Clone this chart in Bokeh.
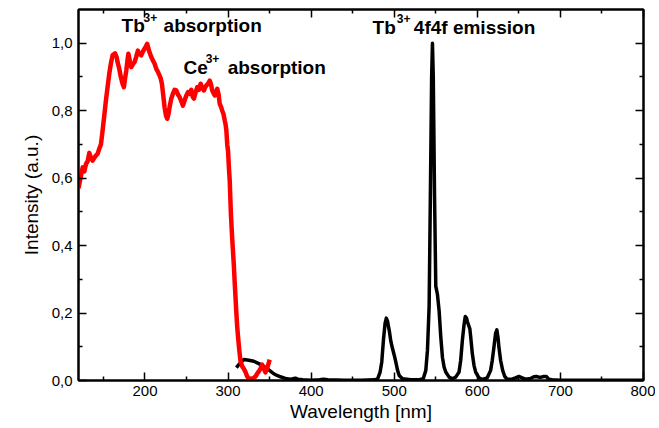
from bokeh.plotting import figure
from bokeh.models import Range1d, FixedTicker, LinearAxis, Label
from bokeh.embed import file_html
from bokeh.resources import INLINE

# ---- data ----
red_x = [120, 122, 125, 127, 129, 131, 133, 135, 137, 139, 141, 143, 145, 147, 149, 151, 153, 155,
         157, 159, 161, 163, 164, 166, 167, 169, 171, 173, 174.6, 176, 177.5, 179, 180, 182, 183.5,
         185.5, 187.5, 189.5, 191.5, 193.5, 195.5, 197.5, 199.5, 201, 202.7, 204, 205.5, 207.5,
         209.5, 211.5, 213.6, 215.6, 217.6, 219, 220.4, 222, 223.6, 225.3, 226.9, 228.3, 229.6,
         231.6, 233.6, 235.6, 237.7, 239.7, 241.7, 243.7, 245.7, 247.7, 249.8, 251.8, 253.7, 255.7,
         257.7, 259, 261, 263, 265, 267, 269, 271, 272.5, 274, 276, 278, 279.5, 281, 282.5, 284,
         285.5, 287, 288.5, 290, 291.5, 293, 294.5, 296, 297, 298, 299, 300, 301, 302, 303.5,
         305, 306, 307, 308, 309, 310, 311, 312, 313.5, 315, 317, 319, 321, 323, 325, 327, 329,
         331, 333, 335, 337, 339, 341, 343, 345, 347, 349, 350]
red_y = [0.570, 0.595, 0.632, 0.620, 0.642, 0.650, 0.675, 0.660, 0.652, 0.660, 0.667, 0.672, 0.687,
         0.700, 0.741, 0.785, 0.830, 0.870, 0.909, 0.940, 0.964, 0.968, 0.970, 0.958, 0.944, 0.925,
         0.899, 0.880, 0.870, 0.895, 0.919, 0.950, 0.969, 0.945, 0.929, 0.938, 0.944, 0.960, 0.978,
         0.968, 0.964, 0.975, 0.984, 0.990, 0.998, 0.985, 0.973, 0.960, 0.949, 0.940, 0.924, 0.915,
         0.904, 0.895, 0.880, 0.845, 0.810, 0.785, 0.776, 0.790, 0.810, 0.835, 0.850, 0.862, 0.860,
         0.848, 0.840, 0.828, 0.815, 0.830, 0.845, 0.855, 0.850, 0.862, 0.840, 0.836, 0.855, 0.870,
         0.862, 0.880, 0.868, 0.860, 0.870, 0.875, 0.880, 0.889, 0.878, 0.860, 0.852, 0.845, 0.856,
         0.865, 0.850, 0.820, 0.812, 0.800, 0.790, 0.771, 0.760, 0.740, 0.700, 0.680, 0.632, 0.593,
         0.490, 0.420, 0.380, 0.340, 0.290, 0.245, 0.200, 0.160, 0.130, 0.090, 0.056, 0.042, 0.035,
         0.025, 0.012, 0.006, 0.005, 0.006, 0.008, 0.012, 0.020, 0.027, 0.035, 0.047, 0.035, 0.024,
         0.036, 0.052, 0.062]

black_x = [310, 314, 319, 325, 331, 337, 343, 347, 351, 355, 359, 363, 367, 371, 375, 378, 381, 384,
           390, 400, 410, 415, 420, 440, 460, 476, 480, 483, 485, 487, 489, 490.5, 492, 494, 496,
           498, 500, 502, 504, 506, 510, 520, 530, 535, 538, 540, 542, 543.5, 545, 546, 547, 548.5,
           550, 552, 554, 556, 558, 560, 562, 566, 570, 574, 578, 580, 582, 584, 585.5, 587, 588,
           590, 591, 592, 594, 596, 598, 602, 606, 612, 616, 618, 620, 622, 623.5, 625, 626, 628,
           630.5, 633, 636, 642, 646, 650, 654, 658, 664, 668, 671, 674, 677, 680, 683, 686, 690,
           700, 720, 750, 780, 800]
black_y = [0.038, 0.050, 0.062, 0.060, 0.057, 0.050, 0.042, 0.035, 0.028, 0.020, 0.015, 0.011, 0.008,
           0.005, 0.004, 0.005, 0.007, 0.004, 0.002, 0.001, 0.002, 0.004, 0.002, 0.001, 0.001, 0.002,
           0.005, 0.025, 0.055, 0.120, 0.170, 0.185, 0.175, 0.148, 0.115, 0.094, 0.075, 0.054, 0.030,
           0.015, 0.005, 0.002, 0.002, 0.006, 0.030, 0.090, 0.220, 0.550, 0.900, 1.000, 0.900, 0.550,
           0.280, 0.255, 0.207, 0.130, 0.069, 0.040, 0.025, 0.010, 0.005, 0.010, 0.025, 0.060, 0.119,
           0.165, 0.190, 0.185, 0.175, 0.160, 0.153, 0.130, 0.079, 0.045, 0.025, 0.008, 0.003, 0.008,
           0.030, 0.060, 0.099, 0.140, 0.150, 0.125, 0.099, 0.060, 0.030, 0.012, 0.004, 0.004, 0.008,
           0.012, 0.008, 0.004, 0.006, 0.011, 0.012, 0.010, 0.010, 0.012, 0.012, 0.004, 0.002, 0.001,
           0.001, 0.001, 0.001, 0.001]

x_ticks = [200, 300, 400, 500, 600, 700, 800]
x_minor = [150, 250, 350, 450, 550, 650, 750]
y_ticks = [0.0, 0.2, 0.4, 0.6, 0.8, 1.0]
y_minor = [0.1, 0.3, 0.5, 0.7, 0.9]
y_tick_labels = ["0,0", "0,2", "0,4", "0,6", "0,8", "1,0"]

FONT = "Liberation Sans"

p = figure(width=655, height=424, output_backend="svg", toolbar_location=None,
           x_range=Range1d(120, 800), y_range=Range1d(0, 1.1),
           min_border_left=78, min_border_right=12, min_border_top=9, min_border_bottom=44)
p.xgrid.grid_line_color = None
p.ygrid.grid_line_color = None
p.outline_line_color = "black"
p.outline_line_width = 2
p.outline_line_alpha = 1
p.background_fill_color = "white"
p.border_fill_color = "white"

xt = FixedTicker(ticks=x_ticks, minor_ticks=x_minor)
yt = FixedTicker(ticks=y_ticks, minor_ticks=y_minor)


def style_axis(ax, labels=True):
    ax.major_tick_in = 8
    ax.major_tick_out = 0
    ax.minor_tick_in = 4
    ax.minor_tick_out = 0
    ax.major_tick_line_width = 1.5
    ax.minor_tick_line_width = 1.5
    ax.major_tick_line_color = "black"
    ax.minor_tick_line_color = "black"
    ax.axis_line_width = 2
    ax.axis_line_color = "black"
    if labels:
        ax.major_label_text_font = FONT
        ax.major_label_text_font_size = "15px"
        ax.major_label_text_color = "black"
        ax.axis_label_text_font = FONT
        ax.axis_label_text_font_size = "19px"
        ax.axis_label_text_font_style = "normal"
        ax.axis_label_text_color = "black"
    else:
        ax.major_label_text_font_size = "1px"
        ax.major_label_standoff = 0


p.xaxis.ticker = xt
p.yaxis.ticker = yt
style_axis(p.xaxis[0])
style_axis(p.yaxis[0])
p.xaxis.axis_label = "Wavelength [nm]"
p.yaxis.axis_label = "Intensity (a.u.)"
p.xaxis.major_label_standoff = 5
p.xaxis.axis_label_standoff = 2
p.yaxis.major_label_standoff = 6
p.yaxis.axis_label_standoff = 7
p.yaxis.major_label_overrides = dict(zip(y_ticks, y_tick_labels))

top = LinearAxis(ticker=xt)
style_axis(top, labels=False)
top.major_label_overrides = {t: "" for t in x_ticks}
right = LinearAxis(ticker=yt)
style_axis(right, labels=False)
right.major_label_overrides = {t: "" for t in y_ticks}
p.add_layout(top, "above")
p.add_layout(right, "right")

p.line(black_x, black_y, line_color="black", line_width=3.5, line_join="round")
p.line(red_x, red_y, line_color="#ff0000", line_width=4.5, line_join="round")


def add_text(x, y, txt, size="19px"):
    p.add_layout(Label(x=x, y=y, text=txt, text_font=FONT, text_font_style="bold",
                       text_font_size=size, text_color="black", text_baseline="alphabetic"))


# Tb3+ absorption
add_text(171.8, 1.052, "Tb")
add_text(198.3, 1.076, "3+", "12px")
add_text(222.4, 1.052, "absorption")
# Ce3+ absorption
add_text(246.5, 0.928, "Ce")
add_text(273.0, 0.954, "3+", "12px")
add_text(299.5, 0.928, "absorption")
# Tb3+ 4f4f emission
add_text(473.9, 1.048, "Tb")
add_text(503.0, 1.073, "3+", "12px")
add_text(523.6, 1.048, "4f4f emission")

open("out.html", "w").write(file_html(p, INLINE))
